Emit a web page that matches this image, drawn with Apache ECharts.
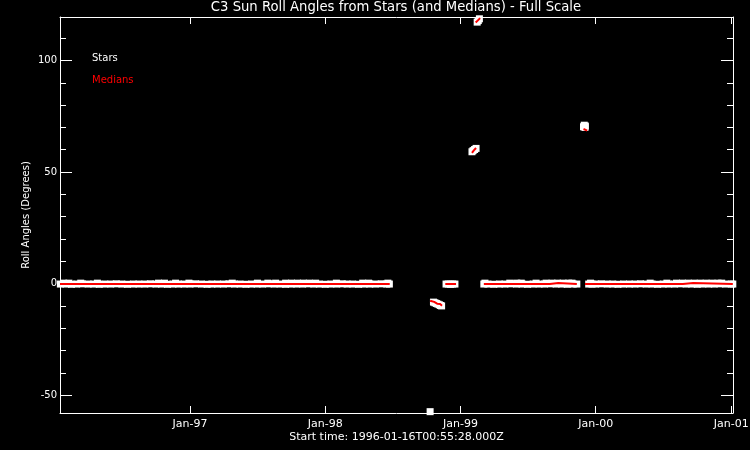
<!DOCTYPE html>
<html>
<head>
<meta charset="utf-8">
<script src="https://cdn.jsdelivr.net/npm/echarts@6/dist/echarts.min.js"></script>
<style>html,body{margin:0;padding:0;background:#000}#c{width:750px;height:450px}</style>
</head>
<body>
<div id="c"></div>
<script>
// ---------------- data ----------------
const titleText = 'C3 Sun Roll Angles from Stars (and Medians) - Full Scale';
const startTime = '1996-01-16T00:55:28';
const endTime = '2001-01-05T12:00:00';
const xTickDates = ['1997-01-01', '1998-01-01', '1999-01-01', '2000-01-01', '2001-01-01'];
const xTickLabels = ['Jan-97', 'Jan-98', 'Jan-99', 'Jan-00', 'Jan-01'];
const yMajorTicks = [-50, 0, 50, 100];
const yMinorTicks = [-50, -40, -30, -20, -10, 0, 10, 20, 30, 40, 50, 60, 70, 80, 90, 100, 110];

// Stars: 1996 - June 1998
const starsEarly = [
  ['1996-01-17', -0.2], ['1996-02-01', -0.2], ['1996-02-16', -0.3], ['1996-03-01', -0.2], ['1996-03-16', -0.1],
  ['1996-04-01', -0.2], ['1996-04-16', -0.2], ['1996-05-01', -0.3], ['1996-05-16', -0.2], ['1996-06-01', -0.2],
  ['1996-06-16', -0.1], ['1996-07-01', -0.2], ['1996-07-16', -0.3], ['1996-08-01', -0.2], ['1996-08-16', -0.2],
  ['1996-09-01', -0.2], ['1996-09-16', -0.1], ['1996-10-01', -0.2], ['1996-10-16', -0.2], ['1996-11-01', -0.3],
  ['1996-11-16', -0.2], ['1996-12-01', -0.2], ['1996-12-16', -0.2],
  ['1997-01-01', -0.2], ['1997-01-16', -0.1], ['1997-02-01', -0.2], ['1997-02-16', -0.3], ['1997-03-01', -0.2],
  ['1997-03-16', -0.2], ['1997-04-01', -0.2], ['1997-04-16', -0.1], ['1997-05-01', -0.2], ['1997-05-16', -0.2],
  ['1997-06-01', -0.3], ['1997-06-16', -0.2], ['1997-07-01', -0.2], ['1997-07-16', -0.2], ['1997-08-01', -0.1],
  ['1997-08-16', -0.2], ['1997-09-01', -0.2], ['1997-09-16', -0.3], ['1997-10-01', -0.2], ['1997-10-16', -0.2],
  ['1997-11-01', -0.2], ['1997-11-16', -0.1], ['1997-12-01', -0.2], ['1997-12-16', -0.2],
  ['1998-01-01', -0.3], ['1998-01-16', -0.2], ['1998-02-01', -0.2], ['1998-02-16', -0.1], ['1998-03-01', -0.2],
  ['1998-03-16', -0.2], ['1998-04-01', -0.3], ['1998-04-16', -0.2], ['1998-05-01', -0.2], ['1998-05-16', -0.2],
  ['1998-06-01', -0.1], ['1998-06-16', -0.2], ['1998-06-23', -0.2],
  // stars sitting slightly above the band
  ['1996-01-26', 0.2], ['1996-02-09', 0.2], ['1996-03-12', 0.2], ['1996-04-26', 0.2], ['1996-10-08', 0.2],
  ['1996-10-24', 0.2], ['1996-11-23', 0.2], ['1996-12-29', 0.2], ['1997-04-25', 0.2], ['1997-07-02', 0.2],
  ['1997-07-30', 0.2], ['1997-08-20', 0.2], ['1997-09-16', 0.2], ['1997-10-02', 0.2], ['1997-10-18', 0.2],
  ['1997-11-03', 0.2], ['1997-11-19', 0.2], ['1997-12-06', 0.2], ['1998-01-31', 0.2], ['1998-04-12', 0.2],
  ['1998-04-28', 0.2], ['1998-06-19', 0.2]
];
// Stars: recovery, autumn 1998
const starsRecovery = [
  ['1998-10-11', -57.4],
  ['1998-10-20', -8.3], ['1998-10-24', -8.6], ['1998-10-28', -8.9], ['1998-11-01', -9.2],
  ['1998-11-05', -9.5], ['1998-11-08', -9.8], ['1998-11-11', -10.0]
];
const starsDec98 = [
  ['1998-11-23', -0.2], ['1998-11-29', -0.2], ['1998-12-05', -0.3], ['1998-12-11', -0.2], ['1998-12-17', -0.2]
];
// Stars: gyroless period early 1999
const starsFeb99 = [
  ['1999-02-01', 59.1], ['1999-02-04', 59.6], ['1999-02-08', 60.1], ['1999-02-12', 60.6],
  ['1999-02-15', 117.2], ['1999-02-18', 117.9], ['1999-02-21', 118.7]
];
const starsNov99 = [
  ['1999-11-29', 70.3], ['1999-12-01', 71.0], ['1999-12-03', 70.0], ['1999-12-04', 70.6]
];
// Stars: March 1999 - 2001
const starsLate = [
  ['1999-03-05', -0.2], ['1999-03-16', -0.2], ['1999-04-01', -0.3], ['1999-04-16', -0.2], ['1999-05-01', -0.2],
  ['1999-05-16', -0.1], ['1999-06-01', -0.2], ['1999-06-16', -0.2], ['1999-07-01', -0.3], ['1999-07-16', -0.2],
  ['1999-08-01', -0.2], ['1999-08-16', -0.2], ['1999-09-01', -0.1], ['1999-09-16', -0.2], ['1999-10-01', -0.2],
  ['1999-10-16', -0.3], ['1999-11-01', -0.2], ['1999-11-11', -0.2],
  ['1999-12-13', -0.2], ['1999-12-22', -0.2],
  ['2000-01-01', -0.2], ['2000-01-16', -0.1], ['2000-02-01', -0.2], ['2000-02-16', -0.2], ['2000-03-01', -0.3],
  ['2000-03-16', -0.2], ['2000-04-01', -0.2], ['2000-04-16', -0.2], ['2000-05-01', -0.1], ['2000-05-16', -0.2],
  ['2000-06-01', -0.2], ['2000-06-16', -0.3], ['2000-07-01', -0.2], ['2000-07-16', -0.2], ['2000-08-01', -0.2],
  ['2000-08-16', -0.1], ['2000-09-01', -0.2], ['2000-09-16', -0.2], ['2000-10-01', -0.3], ['2000-10-16', -0.2],
  ['2000-11-01', -0.2], ['2000-11-16', -0.2], ['2000-12-01', -0.1], ['2000-12-16', -0.2], ['2001-01-01', -0.2],
  ['2001-01-05', -0.2],
  // stars sitting slightly above the band
  ['1999-03-08', 0.2], ['1999-05-14', 0.2], ['1999-06-02', 0.2], ['1999-06-14', 0.2], ['1999-07-24', 0.2],
  ['1999-08-20', 0.2], ['1999-09-05', 0.2], ['1999-09-20', 0.2], ['1999-10-05', 0.2], ['1999-10-20', 0.2],
  ['1999-10-29', 0.2], ['1999-12-18', 0.2], ['2000-05-27', 0.2], ['2000-07-11', 0.2], ['2000-08-06', 0.2],
  ['2000-08-22', 0.2], ['2000-09-07', 0.2], ['2000-09-23', 0.2], ['2000-10-09', 0.2], ['2000-10-25', 0.2],
  ['2000-11-10', 0.2], ['2000-11-26', 0.2], ['2000-12-06', 0.2]
];

// Medians (one array per continuous stretch)
const mediansEarly = [
  ['1996-01-16', -0.2], ['1996-07-01', -0.2], ['1997-01-01', -0.2], ['1997-07-01', -0.2],
  ['1998-01-01', -0.2], ['1998-06-24', -0.2]
];
const mediansRecovery = [
  ['1998-10-11', -7.7], ['1998-10-22', -8.2], ['1998-10-30', -9.0], ['1998-11-07', -9.1], ['1998-11-12', -9.9]
];
const mediansDec98 = [['1998-11-21', -0.2], ['1998-12-20', -0.2]];
const mediansFeb99a = [['1999-02-01', 58.6], ['1999-02-06', 59.7], ['1999-02-12', 60.8]];
const mediansFeb99b = [['1999-02-11', 117.0], ['1999-02-17', 118.0], ['1999-02-23', 119.0]];
const mediansLate1 = [
  ['1999-03-05', -0.2], ['1999-06-01', -0.2], ['1999-08-30', -0.2], ['1999-08-31', 0.3],
  ['1999-09-22', 0.3], ['1999-09-23', -0.2], ['1999-11-11', -0.2]
];
const mediansNov99 = [['1999-11-29', 69.3], ['1999-12-09', 68.6]];
const mediansLate2 = [
  ['1999-12-03', -0.2], ['2000-03-01', -0.2], ['2000-08-23', -0.2], ['2000-08-24', 0.3],
  ['2000-09-20', 0.3], ['2000-09-21', -0.2], ['2001-01-05', -0.2]
];

// ---------------- chart ----------------
const FONT = 'DejaVu Sans';
const WHITE = '#ffffff';
const RED = '#ff0000';
const toTime = d => echarts.time.parse(d).getTime();
const xTickTimes = xTickDates.map(toTime);
const xMin = toTime(startTime);
const xMax = toTime(endTime);
const asTimes = arr => arr.map(p => [toTime(p[0]), p[1]]);

const starsData = asTimes([].concat(starsEarly, starsRecovery, starsDec98, starsFeb99, starsNov99, starsLate));
const medianSegments = [mediansEarly, mediansRecovery, mediansDec98, mediansFeb99a, mediansFeb99b,
  mediansLate1, mediansNov99, mediansLate2];
const mediansData = [];
medianSegments.forEach((seg, i) => {
  if (i > 0) mediansData.push(['-', '-']);
  asTimes(seg).forEach(p => mediansData.push(p));
});

function xAxisDef(pos) {
  return {
    type: 'value',
    position: pos,
    min: xMin,
    max: xMax,
    scale: true,
    axisLine: { show: true, onZero: false, lineStyle: { color: WHITE, width: 1 } },
    axisTick: { show: true, inside: true, length: 7, customValues: xTickTimes, lineStyle: { color: WHITE } },
    axisLabel: pos === 'bottom' ? {
      show: true, customValues: xTickTimes, color: WHITE, fontFamily: FONT, fontSize: 11, margin: 6,
      formatter: function (v) {
        let best = 0;
        xTickTimes.forEach((t, i) => { if (Math.abs(t - v) < Math.abs(xTickTimes[best] - v)) best = i; });
        return xTickLabels[best];
      }
    } : { show: false },
    splitLine: { show: false },
    name: pos === 'bottom' ? 'Start time: 1996-01-16T00:55:28.000Z' : '',
    nameLocation: 'middle',
    nameGap: 19,
    nameMoveOverlap: false,
    nameTextStyle: { color: WHITE, fontFamily: FONT, fontSize: 11 }
  };
}
function yAxisDef(pos, major) {
  return {
    type: 'value',
    position: pos,
    min: -58,
    max: 119.5,
    axisLine: { show: major, onZero: false, lineStyle: { color: WHITE, width: 1 } },
    axisTick: { show: true, inside: true, length: major ? 12 : 6,
      customValues: major ? yMajorTicks : yMinorTicks, lineStyle: { color: WHITE } },
    axisLabel: (pos === 'left' && major) ? {
      show: true, customValues: yMajorTicks, color: WHITE, fontFamily: FONT, fontSize: 10, margin: 3
    } : { show: false },
    splitLine: { show: false },
    name: (pos === 'left' && major) ? 'Roll Angles (Degrees)' : '',
    nameLocation: 'middle',
    nameGap: 29,
    nameMoveOverlap: false,
    nameTextStyle: { color: WHITE, fontFamily: FONT, fontSize: 10 }
  };
}

const chart = echarts.init(document.getElementById('c'), null, { renderer: 'canvas' });
chart.setOption({
  backgroundColor: '#000000',
  animation: false,
  title: {
    text: titleText,
    left: 396,
    top: 1,
    padding: 0,
    textAlign: 'center',
    textStyle: { color: WHITE, fontFamily: FONT, fontSize: 13.2, fontWeight: 'normal' }
  },
  legend: {
    orient: 'vertical',
    left: 86,
    top: 53,
    padding: 0,
    itemWidth: 0,
    itemHeight: 0,
    itemGap: 12,
    selectedMode: false,
    textStyle: { fontFamily: FONT, fontSize: 10 },
    data: [
      { name: 'Stars', textStyle: { color: WHITE } },
      { name: 'Medians', textStyle: { color: RED } }
    ]
  },
  grid: { left: 60, right: 17, top: 17, bottom: 37, containLabel: false, outerBoundsMode: 'none' },
  xAxis: [xAxisDef('bottom'), xAxisDef('top')],
  yAxis: [yAxisDef('left', true), yAxisDef('left', false), yAxisDef('right', true), yAxisDef('right', false)],
  series: [
    {
      name: 'Stars',
      type: 'scatter',
      xAxisIndex: 0,
      yAxisIndex: 0,
      z: 1,
      symbol: 'rect',
      symbolSize: [7, 7],
      clip: true,
      itemStyle: { color: WHITE, opacity: 1, borderWidth: 0 },
      emphasis: { disabled: true },
      data: starsData
    },
    {
      name: 'Medians',
      type: 'line',
      xAxisIndex: 0,
      yAxisIndex: 0,
      z: 5,
      symbol: 'none',
      showSymbol: false,
      connectNulls: false,
      clip: true,
      lineStyle: { color: RED, width: 2, opacity: 1 },
      itemStyle: { color: RED },
      emphasis: { disabled: true },
      data: mediansData
    }
  ]
});
</script>
</body>
</html>
